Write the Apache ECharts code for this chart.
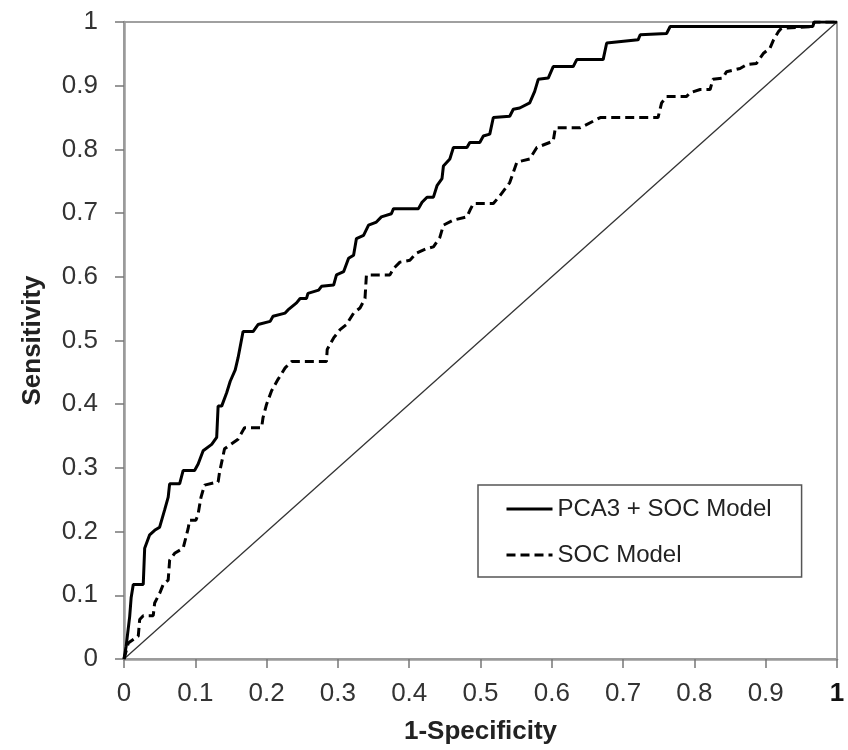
<!DOCTYPE html>
<html>
<head>
<meta charset="utf-8">
<script src="https://cdn.jsdelivr.net/npm/echarts@6/dist/echarts.min.js"></script>
<style>
html,body{margin:0;padding:0;background:#fff;}
#chart{width:848px;height:750px;}
</style>
</head>
<body>
<div id="chart"></div>
<script>
// ---- Data ----
const seriesNames = ['PCA3 + SOC Model', 'SOC Model'];

const pcaX = [0,0.003,0.008,0.010,0.013,0.027,0.029,0.036,0.043,0.050,0.057,0.062,0.064,0.078,0.083,0.099,0.104,0.111,0.123,0.130,0.132,0.137,0.144,0.149,0.156,0.160,0.167,0.181,0.188,0.205,0.209,0.226,0.230,0.242,0.247,0.256,0.258,0.273,0.277,0.294,0.298,0.308,0.315,0.322,0.326,0.336,0.343,0.354,0.361,0.375,0.378,0.413,0.418,0.425,0.434,0.439,0.446,0.448,0.457,0.462,0.481,0.485,0.499,0.504,0.513,0.518,0.541,0.546,0.555,0.569,0.576,0.581,0.595,0.602,0.630,0.635,0.672,0.677,0.721,0.724,0.761,0.766,0.966,0.968,1];
const pcaY = [0,0.020,0.067,0.096,0.117,0.117,0.174,0.195,0.202,0.207,0.234,0.254,0.275,0.275,0.296,0.296,0.306,0.327,0.337,0.348,0.397,0.397,0.418,0.436,0.454,0.473,0.514,0.514,0.525,0.530,0.538,0.543,0.548,0.559,0.566,0.566,0.574,0.579,0.585,0.587,0.603,0.608,0.629,0.634,0.660,0.665,0.681,0.686,0.694,0.699,0.707,0.707,0.717,0.725,0.725,0.743,0.754,0.774,0.785,0.803,0.803,0.811,0.811,0.821,0.824,0.850,0.852,0.863,0.865,0.873,0.891,0.910,0.912,0.930,0.930,0.941,0.941,0.967,0.972,0.980,0.982,0.993,0.993,1,1];

const socX = [0,0.006,0.020,0.022,0.027,0.041,0.043,0.050,0.055,0.062,0.064,0.071,0.083,0.090,0.092,0.101,0.104,0.108,0.113,0.132,0.134,0.141,0.150,0.160,0.169,0.193,0.195,0.200,0.207,0.216,0.226,0.235,0.284,0.285,0.294,0.303,0.312,0.322,0.331,0.338,0.340,0.373,0.378,0.387,0.401,0.410,0.424,0.434,0.443,0.448,0.462,0.481,0.485,0.490,0.518,0.527,0.541,0.551,0.569,0.579,0.602,0.605,0.640,0.668,0.749,0.754,0.761,0.789,0.794,0.808,0.822,0.826,0.840,0.845,0.864,0.873,0.887,0.897,0.906,0.911,0.918,0.922,0.966,0.968,1];
const socY = [0,0.025,0.036,0.062,0.068,0.068,0.088,0.103,0.117,0.124,0.155,0.166,0.174,0.205,0.218,0.218,0.228,0.254,0.273,0.278,0.293,0.330,0.337,0.345,0.363,0.363,0.379,0.400,0.421,0.439,0.457,0.467,0.467,0.486,0.504,0.517,0.525,0.543,0.551,0.566,0.603,0.603,0.613,0.623,0.626,0.637,0.644,0.647,0.662,0.681,0.689,0.694,0.704,0.715,0.715,0.727,0.748,0.780,0.785,0.803,0.813,0.834,0.834,0.850,0.850,0.873,0.883,0.883,0.889,0.894,0.894,0.910,0.912,0.922,0.927,0.933,0.935,0.951,0.959,0.972,0.985,0.990,0.993,1,1];

const diagX = [0, 1];
const diagY = [0, 1];

const axisMin = 0;
const axisMax = 1;
const axisStep = 0.1;
const xTitle = '1-Specificity';
const yTitle = 'Sensitivity';

// ---- Build ----
const zip = (xs, ys) => xs.map((x, i) => [x, ys[i]]);

const chart = echarts.init(document.getElementById('chart'), null, {renderer: 'canvas'});
const FONT = '"Liberation Sans", Arial, sans-serif';

const axisCommon = {
  type: 'value',
  min: axisMin,
  max: axisMax,
  interval: axisStep,
  splitLine: {show: false},
  axisLine: {show: true, onZero: false, lineStyle: {color: '#9a9a9a', width: 2.5}},
  axisTick: {show: true, inside: false, length: 9, lineStyle: {color: '#777', width: 1.5}},
  nameLocation: 'middle',
  nameTextStyle: {fontFamily: FONT, fontWeight: 'bold', fontSize: 26, color: '#222'}
};

chart.setOption({
  backgroundColor: '#fff',
  animation: false,
  grid: {left: 124, right: 11, top: 22, bottom: 87, show: true, borderColor: '#a0a0a0', borderWidth: 2, containLabel: false},
  xAxis: Object.assign({}, axisCommon, {
    name: xTitle,
    nameGap: 60,
    axisLabel: {
      margin: 22, fontFamily: FONT, fontSize: 26, color: '#333',
      formatter: function (v) { return v === 1 ? '{b|1}' : String(v); },
      rich: {b: {fontFamily: FONT, fontSize: 26, fontWeight: 'bold', color: '#111'}}
    }
  }),
  yAxis: Object.assign({}, axisCommon, {
    name: yTitle,
    nameGap: 78,
    axisLabel: {margin: 26, fontFamily: FONT, fontSize: 26, color: '#333'}
  }),
  legend: {
    data: seriesNames,
    orient: 'vertical',
    left: 478,
    top: 485,
    itemWidth: 46,
    itemHeight: 20,
    itemGap: 22,
    padding: [12, 30, 10, 27],
    borderColor: '#555',
    borderWidth: 1.5,
    backgroundColor: '#fff',
    itemStyle: {opacity: 0},
    lineStyle: {width: 3, color: '#000'},
    textStyle: {fontFamily: FONT, fontSize: 24, color: '#222', lineHeight: 24},
    selectedMode: false
  },
  series: [
    {
      name: 'diagonal',
      type: 'line',
      data: zip(diagX, diagY),
      symbol: 'none',
      silent: true,
      lineStyle: {color: '#333', width: 1.3},
      z: 1
    },
    {
      name: seriesNames[0],
      type: 'line',
      data: zip(pcaX, pcaY),
      symbol: 'none',
      lineStyle: {color: '#000', width: 3},
      itemStyle: {color: '#000'},
      z: 3
    },
    {
      name: seriesNames[1],
      type: 'line',
      data: zip(socX, socY),
      symbol: 'none',
      lineStyle: {color: '#000', width: 3, type: [9, 5]},
      itemStyle: {color: '#000'},
      z: 2
    }
  ]
});
</script>
</body>
</html>
